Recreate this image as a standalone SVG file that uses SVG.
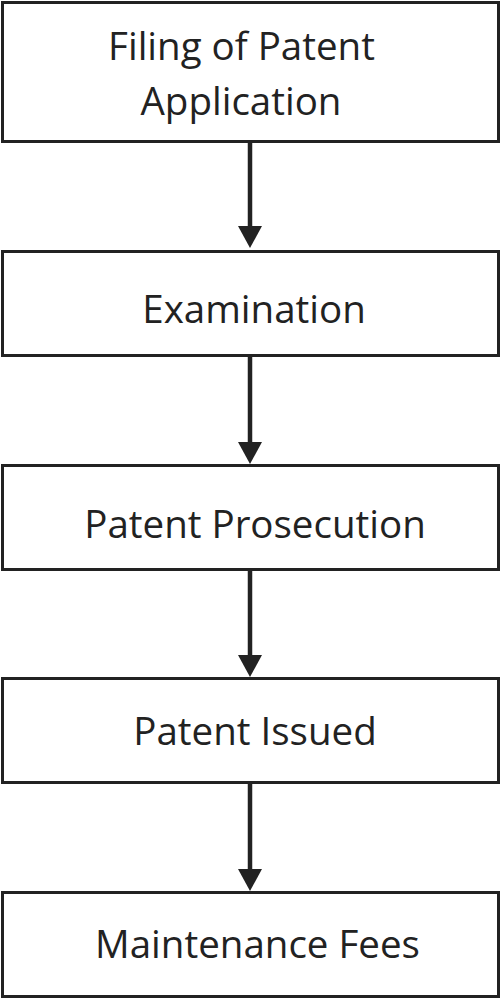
<svg xmlns="http://www.w3.org/2000/svg" width="501" height="999" viewBox="0 0 501 999">
<style>
.box{fill:#fff;stroke:#222;stroke-width:3}
.lbl{font-family:"Open Sans","Noto Sans","Liberation Sans",sans-serif;font-size:38.5px;fill:#222;text-anchor:middle}
.conn{stroke:#222;stroke-width:4.5;fill:none}
</style>
<defs>
<marker id="ah" viewBox="0 0 22 24" markerWidth="22" markerHeight="24" refX="2" refY="12" orient="auto" markerUnits="userSpaceOnUse">
<path d="M0,0 L22,12 L0,24 z" fill="#222"/>
</marker>
</defs>
<rect width="501" height="999" fill="#fff"/>
<g id="connectors">
<line class="conn" x1="250" y1="143" x2="250" y2="228" marker-end="url(#ah)"/>
<line class="conn" x1="250" y1="357" x2="250" y2="444" marker-end="url(#ah)"/>
<line class="conn" x1="250" y1="571" x2="250" y2="657" marker-end="url(#ah)"/>
<line class="conn" x1="250" y1="784" x2="250" y2="871" marker-end="url(#ah)"/>
</g>
<g id="filing">
<rect class="box" x="2.5" y="2.5" width="496" height="139"/>
<text class="lbl" x="241.5" y="60">Filing of Patent</text>
<text class="lbl" x="241" y="115">Application</text>
</g>
<g id="examination">
<rect class="box" x="2.5" y="251.5" width="496" height="104"/>
<text class="lbl" x="254" y="323">Examination</text>
</g>
<g id="prosecution">
<rect class="box" x="2.5" y="465.5" width="496" height="104"/>
<text class="lbl" x="255" y="538">Patent Prosecution</text>
</g>
<g id="issued">
<rect class="box" x="2.5" y="678.5" width="496" height="104"/>
<text class="lbl" x="255" y="745">Patent Issued</text>
</g>
<g id="fees">
<rect class="box" x="2.5" y="892.5" width="496" height="104"/>
<text class="lbl" x="257.5" y="958">Maintenance Fees</text>
</g>
</svg>
